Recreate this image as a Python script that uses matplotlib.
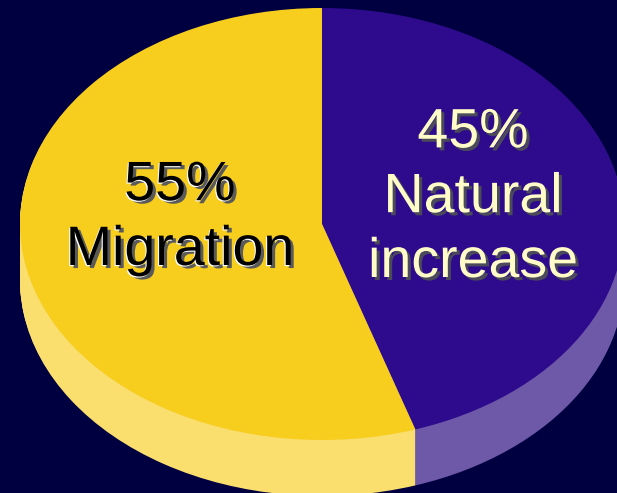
import matplotlib.pyplot as plt
import matplotlib.patheffects as pe

# shares of population growth
categories = ["Natural\nincrease", "Migration"]
shares = [45, 55]

top_colors = ["#2E0A8C", "#F7CD1E"]
side_colors = ["#6E58A8", "#FADE6E"]
text_colors = ["#FFFCC8", "#000000"]
shadow_colors = ["#4A4A5A", "#5A5A5A"]

W, H = 617, 493
fig = plt.figure(figsize=(W / 100, H / 100), dpi=100)
fig.patch.set_facecolor("#000040")
ax = fig.add_axes([0, 0, 1, 1])
ax.set_facecolor("#000040")

# pixel geometry of the tilted pie (centre, half-axes, thickness)
cx, cy = 322, 224
rx, ry = 302, 216
depth = 56

# side of the pie: stack of offset pies in the lighter colours
n_layers = 70
for i in range(n_layers, 0, -1):
    off = depth / ry * i / n_layers
    ax.pie(shares, colors=side_colors, startangle=90, counterclock=False,
           center=(0, -off), radius=1, wedgeprops=dict(linewidth=0))

# top face
ax.pie(shares, colors=top_colors, startangle=90, counterclock=False,
       center=(0, 0), radius=1, wedgeprops=dict(linewidth=0))

# one data unit = rx px across, ry px down, so a unit-radius pie is an ellipse
ax.set_aspect("auto")
ax.set_xlim(-cx / rx, (W - cx) / rx)
ax.set_ylim(-(H - cy) / ry, cy / ry)
ax.axis("off")

# labels (x centre, baseline of last line) in pixels
label_pos = [(473, 277), (180, 265)]
for share, cat, (lx, ly), tc, sc in zip(shares, categories, label_pos,
                                        text_colors, shadow_colors):
    effects = [
        pe.withSimplePatchShadow(offset=(2.2, -2.2), shadow_rgbFace=sc, alpha=1.0),
    ]
    if tc == "#000000":
        effects = [
            pe.SimplePatchShadow(offset=(2.2, -2.2), shadow_rgbFace=sc, alpha=1.0),
            pe.SimplePatchShadow(offset=(-0.8, -0.8), shadow_rgbFace="#FFFFFF", alpha=1.0),
            pe.Normal(),
        ]
    fig.text(lx / W, 1 - ly / H, f"{share}%\n{cat}", ha="center", va="baseline",
             multialignment="center", fontsize=40, family="Liberation Sans",
             color=tc, linespacing=1.32, path_effects=effects)

fig.savefig("out.png", dpi=100, facecolor=fig.get_facecolor())
